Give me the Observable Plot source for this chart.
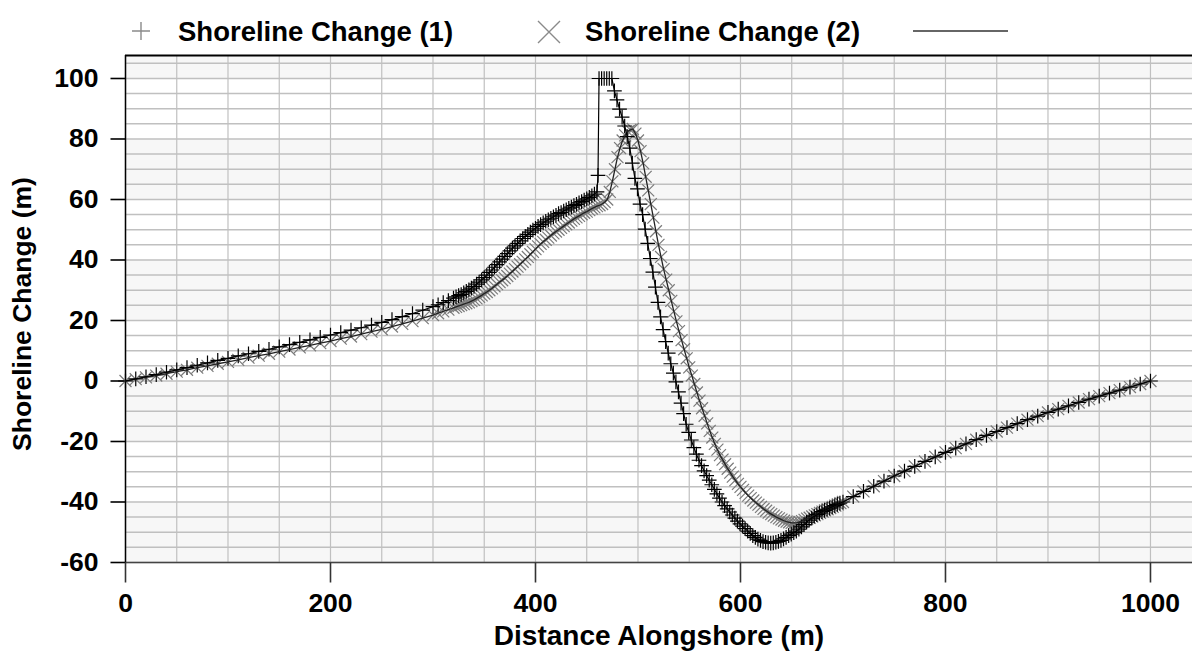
<!DOCTYPE html>
<html><head><meta charset="utf-8">
<script src="https://cdn.jsdelivr.net/npm/d3@7"></script>
<script src="https://cdn.jsdelivr.net/npm/@observablehq/plot@0.6"></script>
<style>
body{margin:0;background:#fff;}
#wrap{position:relative;width:1192px;height:653px;overflow:hidden;font-family:"Liberation Sans",Arial,sans-serif;}
#chart{position:absolute;left:0;top:0;}
#legend{position:absolute;left:0;top:0;}
</style></head>
<body>
<div id="wrap"><div id="chart"></div><svg id="legend" width="1192" height="55"></svg></div>
<script>
// ---- data ----
const seriesNames = ["Shoreline Change (1)", "Shoreline Change (2)"];
const xLabel = "Distance Alongshore (m)";
const yLabel = "Shoreline Change (m)";
const xTicks = [0, 200, 400, 600, 800, 1000];
const xTickLabels = ["0", "200", "400", "600", "800", "1000"];
const yTicks = [-60, -40, -20, 0, 20, 40, 60, 80, 100];
const yTickLabels = ["-60", "-40", "-20", "0", "20", "40", "60", "80", "100"];
const xDomain = [0, 1041];
const yDomain = [-60, 107.6];

// [distance (m), shoreline change (m)]
const series1 = [
 [0,0],[10,0.7],[20,1.4],[30,2.1],[40,2.9],[50,3.7],[60,4.4],[70,5.2],[80,6.0],[90,6.8],
 [100,7.5],[110,8.3],[120,9.0],[130,9.8],[140,10.5],[150,11.3],[160,12.0],[170,12.8],[180,13.6],[190,14.4],
 [200,15.2],[210,16.0],[220,16.8],[230,17.6],[240,18.5],[250,19.4],[260,20.3],[270,21.3],[280,22.3],[290,23.4],
 [300,24.6],[305,25.2],[310,25.9],[315,26.6],[320,27.4],[322.5,27.8],[325,28.2],[327.5,28.6],[330,29.1],[332.5,29.6],
 [335,30.1],[337.5,30.7],[340,31.3],[342.5,32.0],[345,32.7],[347.5,33.4],[350,34.2],[352.5,35.0],[355,35.9],[357.5,36.7],
 [360,37.6],[362.5,38.5],[365,39.4],[367.5,40.3],[370,41.2],[372.5,42.1],[375,43.0],[377.5,43.9],[380,44.7],[382.5,45.5],
 [385,46.3],[387.5,47.1],[390,47.8],[392.5,48.5],[395,49.2],[397.5,49.9],[400,50.5],[402.5,51.1],[405,51.7],[407.5,52.3],
 [410,52.8],[412.5,53.3],[415,53.8],[417.5,54.3],[420,54.8],[422.5,55.3],[425,55.7],[427.5,56.2],[430,56.6],[432.5,57.1],
 [435,57.5],[437.5,58.0],[440,58.4],[442.5,58.9],[445,59.3],[447.5,59.8],[450,60.2],[452.5,60.7],[455,61.2],[457.5,61.8],
 [460,62.5],[461,68],[462,100],[464.5,100],[467,100],[469.5,100],[472,100],[474.5,100],[477,95.9],[479.5,92.9],
 [482,89.9],[484.5,87.2],[487,84.3],[489.5,80.8],[492,77.0],[494.5,72.0],[497,67.0],[499.5,63.5],[502,58.5],[504.5,55.0],
 [507,50.2],[509.5,45.5],[512,40.5],[514.5,36.0],[517,31.0],[519.5,26.0],[522,21.2],[524.5,17.0],[527,13.0],[529.5,9.2],
 [532,5.7],[534.5,2.6],[537,-0.3],[539.5,-3.6],[542,-7.3],[544.5,-10.8],[547,-14.3],[549.5,-17.0],[552,-19.5],[554.5,-22.0],
 [557,-24.2],[559.5,-26.2],[562,-28.0],[564.5,-29.7],[567,-31.3],[569.5,-32.8],[572,-34.3],[574.5,-35.8],[577,-37.3],[579.5,-38.7],
 [582,-40.0],[584.5,-41.2],[587,-42.3],[589.5,-43.3],[592,-44.3],[594.5,-45.3],[597,-46.3],[599.5,-47.2],[602,-48.0],[604.5,-48.8],
 [607,-49.6],[609.5,-50.4],[612,-51.1],[614.5,-51.7],[617,-52.3],[619.5,-52.7],[622,-53.1],[624.5,-53.3],[627,-53.5],[629.5,-53.6],
 [632,-53.5],[634.5,-53.3],[637,-53.0],[639.5,-52.7],[642,-52.2],[644.5,-51.7],[647,-51.1],[649.5,-50.6],[652,-50.1],[654.5,-49.6],
 [657,-49.0],[659.5,-48.2],[662,-47.5],[664.5,-46.7],[667,-46.0],[669.5,-45.3],[672,-44.7],[674.5,-44.2],[677,-43.7],[679.5,-43.2],
 [682,-42.8],[684.5,-42.4],[687,-42.0],[689.5,-41.6],[692,-41.2],[694.5,-40.8],[697,-40.4],[700,-40.0],
 [710,-38.2],[720,-36.5],[730,-34.8],[740,-33.1],[750,-31.4],[760,-29.8],[770,-28.2],[780,-26.6],[790,-25.1],[800,-23.6],
 [810,-22.2],[820,-20.8],[830,-19.4],[840,-18.0],[850,-16.7],[860,-15.4],[870,-14.1],[880,-12.8],[890,-11.6],[900,-10.4],
 [910,-9.3],[920,-8.2],[930,-7.1],[940,-6.0],[950,-5.0],[960,-4.0],[970,-3.0],[980,-2.0],[990,-1.0],[1000,0]
];

const series2 = [
 [0,0],[10,0.6],[20,1.2],[30,1.8],[40,2.4],[50,3.1],[60,3.7],[70,4.4],[80,5.0],[90,5.7],
 [100,6.3],[110,7.0],[120,7.7],[130,8.4],[140,9.0],[150,9.7],[160,10.4],[170,11.1],[180,11.8],[190,12.5],
 [200,13.2],[210,14.0],[220,14.7],[230,15.5],[240,16.3],[250,17.1],[260,18.0],[270,18.9],[280,19.8],[290,20.8],
 [300,21.8],[305,22.4],[310,23.0],[315,23.6],[320,24.2],[322.5,24.5],[325,24.8],[327.5,25.1],[330,25.4],[332.5,25.7],
 [335,26.0],[337.5,26.4],[340,26.8],[342.5,27.3],[345,27.8],[347.5,28.3],[350,28.9],[352.5,29.4],[355,30.0],[357.5,30.6],
 [360,31.3],[362.5,32.0],[365,32.7],[367.5,33.3],[370,34.0],[372.5,34.7],[375,35.5],[377.5,36.2],[380,37.0],[382.5,37.8],
 [385,38.6],[387.5,39.4],[390,40.2],[392.5,41.0],[395,41.9],[397.5,42.7],[400,43.6],[402.5,44.5],[405,45.3],[407.5,46.0],
 [410,46.7],[412.5,47.4],[415,48.1],[417.5,48.8],[420,49.4],[422.5,50.0],[425,50.6],[427.5,51.2],[430,51.8],[432.5,52.4],
 [435,53.0],[437.5,53.6],[440,54.1],[442.5,54.6],[445,55.1],[447.5,55.6],[450,56.0],[452.5,56.5],[455,57.0],[457.5,57.4],
 [460,57.8],[462.5,58.1],[465,58.5],[467.5,59.1],[470,60.0],[472.5,62.5],[475,66.0],[477.5,70.0],[480,74.0],[482.5,77.0],
 [485,79.5],[487.5,81.2],[490,82.5],[492.5,83.0],[495,83.3],[497.5,81.8],[500,79.5],[502.5,76.0],[505,72.0],[507.5,67.5],
 [510,63.0],[512.5,58.5],[515,54.0],[517.5,49.5],[520,45.0],[522.5,41.0],[525,37.0],[527.5,33.5],[530,30.0],[532.5,26.5],
 [535,23.0],[537.5,19.7],[540,16.5],[542.5,13.5],[545,10.5],[547.5,7.5],[550,4.5],[552.5,1.8],[555,-1.0],[557.5,-3.8],
 [560,-6.5],[562.5,-9.0],[565,-11.5],[567.5,-14.0],[570,-16.5],[572.5,-18.7],[575,-20.8],[577.5,-22.7],[580,-24.5],[582.5,-26.0],
 [585,-27.5],[587.5,-29.0],[590,-30.3],[592.5,-31.6],[595,-32.8],[597.5,-34.0],[600,-35.0],[602.5,-36.0],[605,-37.0],[607.5,-37.9],
 [610,-38.7],[612.5,-39.5],[615,-40.2],[617.5,-40.9],[620,-41.6],[622.5,-42.3],[625,-42.9],[627.5,-43.5],[630,-44.0],[632.5,-44.5],
 [635,-45.0],[637.5,-45.4],[640,-45.8],[642.5,-46.2],[645,-46.5],[647.5,-46.7],[650,-46.9],[652.5,-46.9],[655,-46.8],[657.5,-46.6],
 [660,-46.3],[662.5,-45.9],[665,-45.5],[667.5,-45.2],[670,-44.8],[672.5,-44.4],[675,-44.0],[677.5,-43.6],[680,-43.2],[682.5,-42.8],
 [685,-42.4],[687.5,-42.0],[690,-41.6],[692.5,-41.2],[695,-40.8],[697.5,-40.4],[700,-40.0],
 [710,-38.2],[720,-36.5],[730,-34.8],[740,-33.1],[750,-31.4],[760,-29.8],[770,-28.2],[780,-26.6],[790,-25.1],[800,-23.6],
 [810,-22.2],[820,-20.8],[830,-19.4],[840,-18.0],[850,-16.7],[860,-15.4],[870,-14.1],[880,-12.8],[890,-11.6],[900,-10.4],
 [910,-9.3],[920,-8.2],[930,-7.1],[940,-6.0],[950,-5.0],[960,-4.0],[970,-3.0],[980,-2.0],[990,-1.0],[1000,0]
];

// ---- build ----
const s1 = series1.map(([x, y]) => ({x, y}));
const s2 = series2.map(([x, y]) => ({x, y}));
const xGrid = d3.range(xDomain[0], xDomain[1], 50);
const yGrid = d3.range(yTicks[0], yDomain[1], 5);
const bandStarts = d3.range(yTicks[0], yDomain[1], 40);
const FONT = "'Liberation Sans', Arial, sans-serif";

// tick-mark glyphs drawn at the axis edge
const tickLeft = {draw(ctx) { ctx.moveTo(-15, 0); ctx.lineTo(0, 0); }};
const tickDown = {draw(ctx) { ctx.moveTo(0, 0); ctx.lineTo(0, 20); }};

const chart = Plot.plot({
  width: 1192, height: 653,
  marginLeft: 125, marginRight: 0, marginTop: 55, marginBottom: 91,
  x: {domain: xDomain, axis: null},
  y: {domain: yDomain, axis: null},
  style: {fontFamily: FONT, fontSize: "26px", fontWeight: "bold", color: "#000", background: "transparent", overflow: "visible"},
  marks: [
    Plot.rect(bandStarts, {y1: d => d, y2: d => d + 20, fill: "#f7f7f7", clip: true}),
    Plot.ruleX(xGrid, {stroke: "#c0c0c0", strokeWidth: 1.2}),
    Plot.ruleY(yGrid, {stroke: "#c0c0c0", strokeWidth: 1.5}),
    Plot.ruleY([yTicks[0]], {stroke: "#444", strokeWidth: 1.5}),
    Plot.ruleY([yDomain[1]], {stroke: "#000", strokeWidth: 2}),
    Plot.ruleX([xDomain[0]], {stroke: "#000", strokeWidth: 1.5}),
    // axis ticks and tick labels
    Plot.dot(yTicks, {x: () => xDomain[0], y: d => d, symbol: tickLeft, fill: "none", stroke: "#000", strokeWidth: 1.6}),
    Plot.dot(xTicks, {x: d => d, y: () => yDomain[0], symbol: tickDown, fill: "none", stroke: "#333", strokeWidth: 1.6}),
    Plot.text(yTicks, {y: d => d, text: (d, i) => yTickLabels[i], frameAnchor: "left", textAnchor: "end", lineAnchor: "middle", dx: -27, fontSize: 26.5, fontWeight: "bold"}),
    Plot.text(xTicks, {x: d => d, text: (d, i) => xTickLabels[i], frameAnchor: "bottom", textAnchor: "middle", lineAnchor: "middle", dy: 41, fontSize: 26.5, fontWeight: "bold"}),
    // data
    Plot.dot(s2, {x: "x", y: "y", symbol: "times", r: 5.5, stroke: "#7a7a7a", strokeWidth: 1.2}),
    Plot.dot(s1, {x: "x", y: "y", symbol: "plus", r: 4.8, stroke: "#000", strokeWidth: 1.2}),
    Plot.line(s2, {x: "x", y: "y", stroke: "#222", strokeWidth: 1.3}),
    Plot.line(s1, {x: "x", y: "y", stroke: "#000", strokeWidth: 1.2}),
    // axis titles
    Plot.text([xLabel], {frameAnchor: "bottom", textAnchor: "middle", lineAnchor: "middle", dy: 74, fontSize: 28, fontWeight: "bold"}),
    Plot.text([yLabel], {frameAnchor: "left", textAnchor: "middle", lineAnchor: "middle", dx: -103, dy: 5, rotate: -90, fontSize: 26.5, fontWeight: "bold"})
  ]
});
document.getElementById("chart").appendChild(chart);

// ---- legend ----
const ns = "http://www.w3.org/2000/svg";
const lg = document.getElementById("legend");
function el(tag, attrs, text) {
  const e = document.createElementNS(ns, tag);
  for (const k in attrs) e.setAttribute(k, attrs[k]);
  if (text) e.textContent = text;
  lg.appendChild(e);
  return e;
}
el("path", {d: "M132,31H150M141,22V40", stroke: "#8a8a8a", "stroke-width": 1.4, fill: "none"});
el("text", {x: 178, y: 41, "font-family": FONT, "font-size": 27.5, "font-weight": "bold", fill: "#000"}, seriesNames[0]);
el("path", {d: "M538,21L560,43M560,21L538,43", stroke: "#8a8a8a", "stroke-width": 1.4, fill: "none"});
el("text", {x: 585, y: 41, "font-family": FONT, "font-size": 27.5, "font-weight": "bold", fill: "#000"}, seriesNames[1]);
el("path", {d: "M913,31H1008", stroke: "#333", "stroke-width": 1.3, fill: "none"});
</script>
</body></html>
